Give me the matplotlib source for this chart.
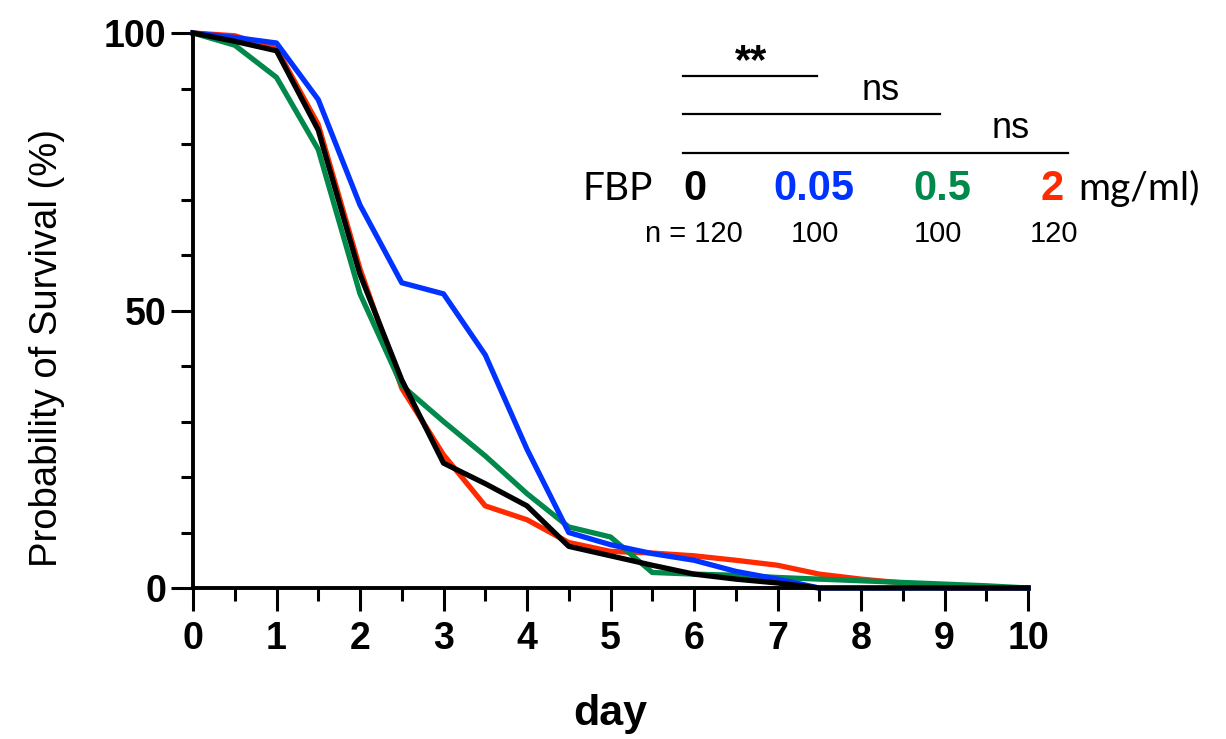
import numpy as np
import matplotlib
matplotlib.use('Agg')
from matplotlib import pyplot as plt

# dados (sobrevivencia em %, a cada meio dia)
days = np.arange(0, 10.5, 0.5)

fbp_0 = [100, 98.5, 96.8, 82.5, 56.5, 37.5, 22.5, 18.8, 14.8, 7.5, 5.8,
         4.1, 2.5, 1.6, 0.9, 0, 0, 0, 0, 0, 0]
fbp_005 = [100, 99.2, 98.2, 88, 69, 55, 53, 42, 25, 10, 7.8,
           6.2, 5, 3, 1.6, 0, 0, 0, 0, 0, 0]
fbp_05 = [100, 97.8, 92, 79, 53, 36.5, 30, 23.8, 17, 11, 9.2,
          2.8, 2.5, 2.3, 1.9, 1.6, 1.3, 1.0, 0.7, 0.4, 0]
fbp_2 = [100, 99.5, 97.2, 83.5, 57.5, 36, 24, 14.8, 12.3, 8.2, 6.6,
         6.3, 5.8, 5.0, 4.1, 2.5, 1.6, 0.9, 0, 0, 0]

series = [fbp_2, fbp_05, fbp_005, fbp_0]
colors = ['#ff2a00', '#00894a', '#0033ff', '#000000']

doses = ['0', '0.05', '0.5', '2']
dose_colors = ['#000000', '#0033ff', '#00894a', '#ff2a00']
n_labels = ['n = 120', '100', '100', '120']

xticks = np.arange(0, 11, 1)
yticks = [0, 50, 100]

sans = 'Liberation Sans'
W, H = 1226, 739

def px(x, y):
    return x / W, 1 - y / H

fig = plt.figure(figsize=(W / 100, H / 100), dpi=100)
ax = fig.add_axes([193 / W, 151 / H, 835 / W, 555 / H])

for vals, c in zip(series, colors):
    ax.plot(days, vals, color=c, lw=3.8, clip_on=False)

ax.set_xlim(0, 10)
ax.set_ylim(0, 100)
ax.spines['top'].set_visible(False)
ax.spines['right'].set_visible(False)
for s in ['left', 'bottom']:
    ax.spines[s].set_linewidth(2.8)

ax.set_xticks(xticks)
ax.set_xticks(np.arange(0.5, 10, 1), minor=True)
ax.set_yticks(yticks)
ax.set_yticks(np.arange(10, 100, 10), minor=True)
ax.set_xticklabels([str(t) for t in xticks], family=sans, fontweight='bold', fontsize=27)
ax.set_yticklabels([str(t) for t in yticks], family=sans, fontweight='bold', fontsize=27)
ax.tick_params(axis='x', which='major', length=16.5, width=2.2, pad=7)
ax.tick_params(axis='x', which='minor', length=9.4, width=2.2)
ax.tick_params(axis='y', which='major', length=16, width=2.2, pad=3)
ax.tick_params(axis='y', which='minor', length=9, width=2.2)

# rotulos dos eixos
fig.text(*px(47, 348), 'Probability of Survival (%)', rotation=90,
         ha='center', va='center', family=sans, fontsize=27.5)
fig.text(*px(610, 725), 'day', ha='center', va='baseline',
         family=sans, fontweight='bold', fontsize=31)

# barras de significancia
bars = [(683, 817, 76), (683, 940, 114), (683, 1068, 153)]
for x0, x1, y in bars:
    fig.add_artist(plt.Line2D([x0 / W, x1 / W], [1 - y / H, 1 - y / H],
                              color='black', lw=1.6, transform=fig.transFigure))
fig.text(*px(751, 42), '**', ha='center', va='top', family=sans,
         fontweight='bold', fontsize=30)
fig.text(*px(881, 100), 'ns', ha='center', va='baseline', family=sans, fontsize=26)
fig.text(*px(1011, 138), 'ns', ha='center', va='baseline', family=sans, fontsize=26)

# legenda com as doses
fig.text(*px(583, 200), 'FBP', ha='left', va='baseline', family='Lato', fontsize=28)
dose_x = [695, 814, 942, 1052]
for d, c, x in zip(doses, dose_colors, dose_x):
    fig.text(*px(x, 200), d, ha='center', va='baseline', family=sans,
             fontweight='bold', fontsize=30, color=c)
fig.text(*px(1078, 200), 'mg/ml)', ha='left', va='baseline', family='Lato', fontsize=28)

n_x = [694, 815, 938, 1054]
for t, x in zip(n_labels, n_x):
    fig.text(*px(x, 242), t, ha='center', va='baseline', family=sans, fontsize=21)

fig.savefig('out.png', dpi=100)
